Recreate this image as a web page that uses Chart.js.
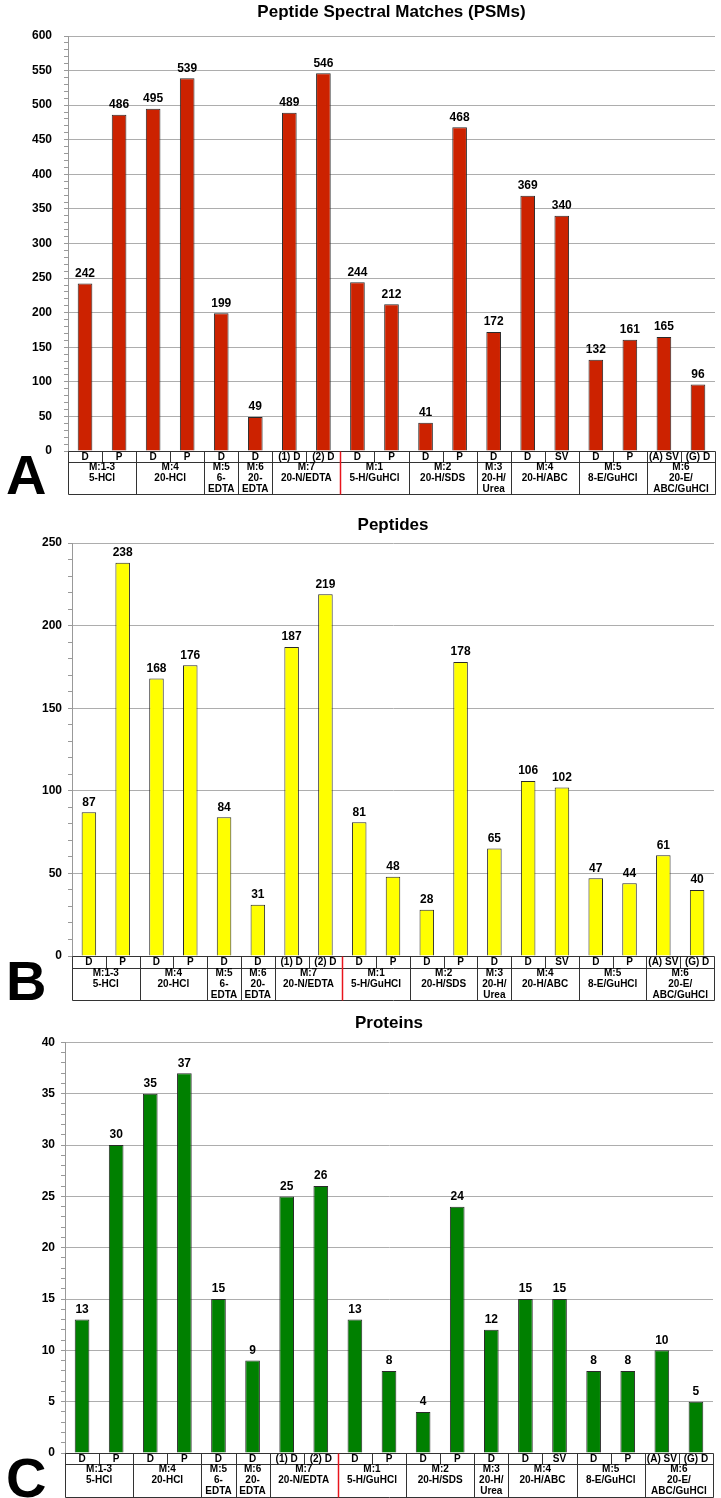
<!DOCTYPE html>
<html>
<head>
<meta charset="utf-8">
<title>PSMs, Peptides and Proteins</title>
<script src="https://cdn.jsdelivr.net/npm/chart.js@4.4.1/dist/chart.umd.min.js"></script>
<style>
  body { margin: 0; background: #fff; }
  .panel { position: absolute; left: 0; width: 721px; }
</style>
</head>
<body>
<div class="panel" style="top:0"><canvas id="psmChart" width="721" height="500"></canvas></div>
<div class="panel" style="top:500px"><canvas id="peptideChart" width="721" height="502"></canvas></div>
<div class="panel" style="top:998px"><canvas id="proteinChart" width="721" height="500"></canvas></div>
<script>
const FONT = '"Liberation Sans", Arial, Helvetica, sans-serif';

// first row of the table under each chart (one per bar)
const subLabels = ['D', 'P', 'D', 'P', 'D', 'D', '(1) D', '(2) D',
                   'D', 'P', 'D', 'P', 'D', 'D', 'SV', 'D', 'P', '(A) SV', '(G) D'];
// second row: method groups and how many bars each one spans
const groupLabels = [
    ['M:1-3', '5-HCl'], ['M:4', '20-HCl'], ['M:5', '6-', 'EDTA'], ['M:6', '20-', 'EDTA'],
    ['M:7', '20-N/EDTA'], ['M:1', '5-H/GuHCl'], ['M:2', '20-H/SDS'], ['M:3', '20-H/', 'Urea'],
    ['M:4', '20-H/ABC'], ['M:5', '8-E/GuHCl'], ['M:6', '20-E/', 'ABC/GuHCl']
];
const groupSizes = [2, 2, 1, 1, 2, 2, 2, 1, 2, 2, 2];
const redLineAfterGroup = 4;

const psmValues = [242, 486, 495, 539, 199, 49, 489, 546, 244, 212, 41, 468, 172, 369, 340, 132, 161, 165, 96];
const peptideValues = [87, 238, 168, 176, 84, 31, 187, 219, 81, 48, 28, 178, 65, 106, 102, 47, 44, 61, 40];
const proteinValues = [13, 30, 35, 37, 15, 9, 25, 26, 13, 8, 4, 24, 12, 15, 15, 8, 8, 10, 5];

// value labels, the label table and the panel letter
const tablePlugin = {
    id: 'methodTable',
    afterDatasetsDraw(chart) {
        const ctx = chart.ctx;
        const values = chart.data.datasets[0].data;
        ctx.save();
        ctx.font = 'bold 12px ' + FONT;
        ctx.fillStyle = '#000';
        ctx.textAlign = 'center';
        ctx.textBaseline = 'bottom';
        chart.getDatasetMeta(0).data.forEach((bar, i) => {
            ctx.fillText(values[i], bar.x, bar.y - 4);
        });
        ctx.restore();
    },
    afterDraw(chart, args, opts) {
        const { ctx, chartArea, scales } = chart;
        const n = subLabels.length;
        const edge = i => {
            if (i === 0) return chartArea.left;
            if (i === n) return chartArea.right;
            return (scales.x.getPixelForValue(i - 1) + scales.x.getPixelForValue(i)) / 2;
        };
        const px = v => Math.round(v) + 0.5;
        const top = chartArea.bottom;
        const mid = top + opts.row1;
        const bot = mid + opts.row2;
        const left = px(edge(0)), right = px(edge(n));

        ctx.save();
        ctx.strokeStyle = '#333';
        ctx.lineWidth = 1;
        ctx.beginPath();
        [top, mid, bot].forEach(y => { ctx.moveTo(left, px(y)); ctx.lineTo(right, px(y)); });
        ctx.moveTo(left, px(top)); ctx.lineTo(left, px(bot));
        ctx.moveTo(right, px(top)); ctx.lineTo(right, px(bot));
        for (let i = 1; i < n; i++) {
            ctx.moveTo(px(edge(i)), px(top));
            ctx.lineTo(px(edge(i)), px(mid));
        }
        let start = 0;
        const groupEdges = [];
        groupSizes.forEach(size => { groupEdges.push([start, start + size]); start += size; });
        groupEdges.forEach(([a, b], g) => {
            if (b < n && g !== redLineAfterGroup) {
                ctx.moveTo(px(edge(b)), px(mid));
                ctx.lineTo(px(edge(b)), px(bot));
            }
        });
        ctx.stroke();

        // red separator between the two method sets
        const redX = px(edge(groupEdges[redLineAfterGroup][1]));
        ctx.strokeStyle = '#e8141c';
        ctx.lineWidth = 1.5;
        ctx.beginPath();
        ctx.moveTo(redX, px(top));
        ctx.lineTo(redX, px(bot));
        ctx.stroke();

        ctx.fillStyle = '#000';
        ctx.font = 'bold 10px ' + FONT;
        ctx.textAlign = 'center';
        ctx.textBaseline = 'middle';
        subLabels.forEach((label, i) => {
            ctx.fillText(label, (edge(i) + edge(i + 1)) / 2, (top + mid) / 2 + 0.5);
        });
        groupEdges.forEach(([a, b], g) => {
            const cx = (edge(a) + edge(b)) / 2;
            groupLabels[g].forEach((line, k) => {
                ctx.fillText(line, cx, mid + 5 + k * 11);
            });
        });

        ctx.font = 'bold 56px ' + FONT;
        ctx.textAlign = 'left';
        ctx.textBaseline = 'alphabetic';
        ctx.fillText(opts.letter, 6, bot);
        ctx.restore();
    }
};

function makeChart(id, values, color, p) {
    const major = p.major;
    new Chart(document.getElementById(id), {
        type: 'bar',
        data: {
            labels: subLabels,
            datasets: [{
                data: values,
                backgroundColor: color,
                borderColor: '#2a2a2a',
                borderWidth: 1,
                barPercentage: 0.43,
                categoryPercentage: 1
            }]
        },
        options: {
            responsive: false,
            animation: false,
            events: [],
            layout: { padding: { left: 0, right: p.padRight, top: 0, bottom: p.padBottom } },
            plugins: {
                legend: { display: false },
                tooltip: { enabled: false },
                title: {
                    display: true,
                    text: p.title,
                    fullSize: false,
                    color: '#000',
                    font: { family: FONT, size: 17, weight: 'bold' },
                    padding: { top: p.titleTop, bottom: p.titleBottom }
                },
                methodTable: { row1: p.row1, row2: p.row2, letter: p.letter }
            },
            scales: {
                x: { display: false },
                y: {
                    min: 0,
                    max: p.max,
                    border: { color: '#999', width: 1 },
                    grid: {
                        color: c => (c.tick && c.tick.value % major === 0 && c.tick.value !== 0) ? '#adadad' : 'rgba(0,0,0,0)',
                        tickColor: '#999',
                        tickLength: 4
                    },
                    ticks: {
                        stepSize: p.minor,
                        autoSkip: false,
                        padding: p.tickPad,
                        color: '#000',
                        font: { family: FONT, size: 12, weight: 'bold' },
                        callback: v => (v % major === 0 ? v : '')
                    },
                    afterFit(scale) { scale.width = p.left; }
                }
            }
        },
        plugins: [tablePlugin]
    });
}

makeChart('psmChart', psmValues, '#cc2200', {
    title: 'Peptide Spectral Matches (PSMs)', letter: 'A',
    max: 600, major: 50, minor: 10, left: 68, padRight: 6, padBottom: 49,
    titleTop: 2, titleBottom: 13.6, tickPad: 12, row1: 11, row2: 32
});
makeChart('peptideChart', peptideValues, '#ffff00', {
    title: 'Peptides', letter: 'B',
    max: 250, major: 50, minor: 10, left: 72, padRight: 7, padBottom: 46,
    titleTop: 15, titleBottom: 7.6, tickPad: 6, row1: 12, row2: 32
});
makeChart('proteinChart', proteinValues, '#008000', {
    title: 'Proteins', letter: 'C',
    max: 40, major: 5, minor: 1, left: 65, padRight: 8, padBottom: 45,
    titleTop: 15, titleBottom: 9, tickPad: 6, row1: 11, row2: 33
});
</script>
</body>
</html>
